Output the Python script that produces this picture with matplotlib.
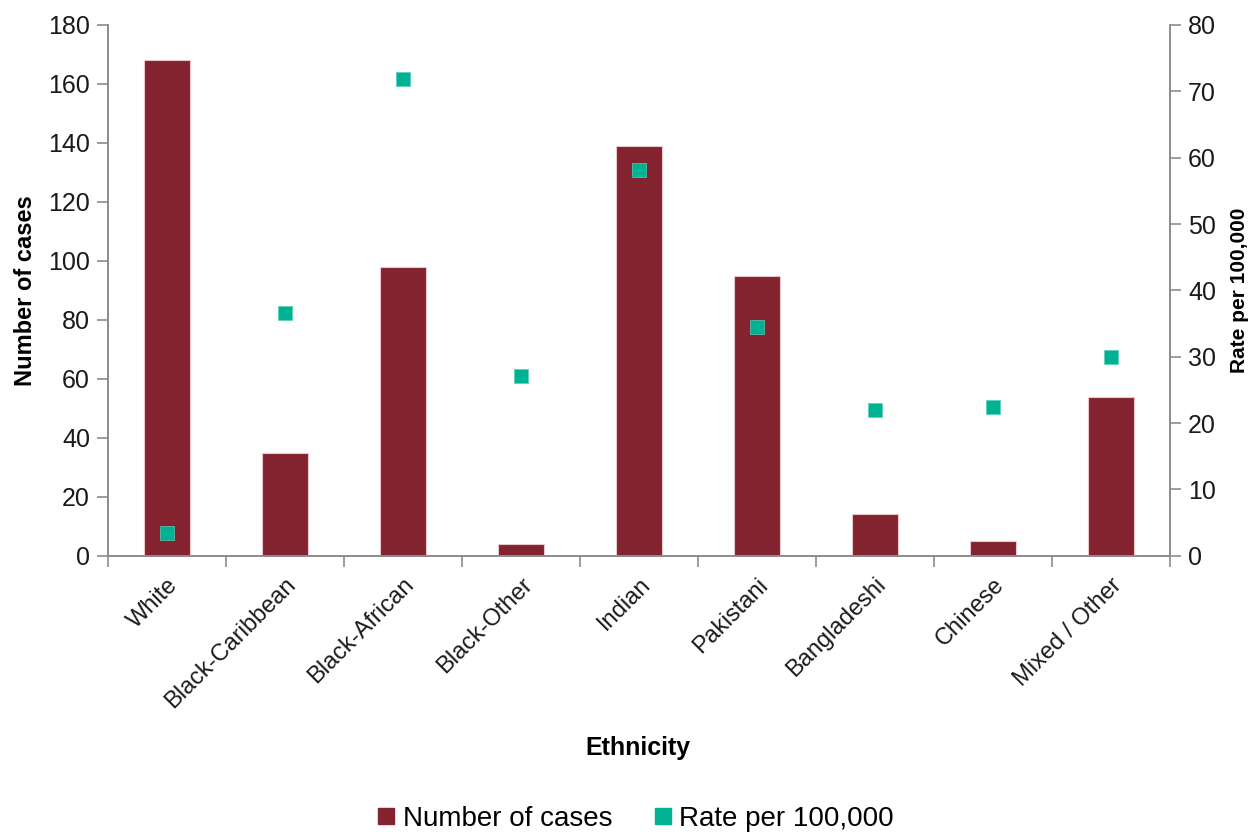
import numpy as np
import matplotlib.pyplot as plt
from matplotlib.lines import Line2D

plt.rcParams['font.family'] = ['Liberation Sans', 'DejaVu Sans']

grupos = ['White', 'Black-Caribbean', 'Black-African', 'Black-Other', 'Indian',
          'Pakistani', 'Bangladeshi', 'Chinese', 'Mixed / Other']
casos = [168, 35, 98, 4, 139, 95, 14, 5, 54]
tasa = [3.5, 36.6, 71.8, 27.1, 58.2, 34.5, 21.9, 22.4, 29.9]

color_barra = '#82232F'
color_tasa = '#00B294'
gris = '#8C8C8C'
texto = '#1A1A1A'

fig = plt.figure(figsize=(12.54, 8.32), dpi=100)
ax = fig.add_axes([0.0861, 0.332, 0.847, 0.638])
ax2 = ax.twinx()

x = np.arange(len(grupos))
ax.bar(x, casos, width=0.39, color=color_barra, edgecolor='#E8C8CC', linewidth=0.8, zorder=2)
ax2.plot(x, tasa, 's', color=color_tasa, markersize=9.5, markeredgecolor='#5CCDB8',
         markeredgewidth=0.5, zorder=3)

ax.set_xlim(-0.5, len(grupos) - 0.5)
ax.set_ylim(0, 180)
ax.set_yticks(range(0, 181, 20))
ax2.set_ylim(0, 80)
ax2.set_yticks(range(0, 81, 10))

# etiquetas en el centro, marcas entre categorias
ax.set_xticks(x)
ax.set_xticklabels(grupos, rotation=45, ha='right', rotation_mode='anchor',
                   fontsize=17, color=texto)
ax.set_xticks(np.arange(-0.5, len(grupos)), minor=True)
ax.tick_params(axis='x', which='major', length=0, pad=13)
ax.tick_params(axis='x', which='minor', length=8, color=gris, width=1.2)
ax.tick_params(axis='y', length=8, color=gris, width=1.2, labelsize=18,
               labelcolor=texto, pad=5)
ax2.tick_params(axis='y', length=8, color=gris, width=1.2, labelsize=18,
                labelcolor=texto, pad=5)

for a in (ax, ax2):
    a.spines['top'].set_visible(False)
    for s in ('left', 'right', 'bottom'):
        a.spines[s].set_color(gris)
        a.spines[s].set_linewidth(1.2)

ax.set_ylabel('Number of cases', fontsize=17, fontweight='bold', labelpad=8)
ax2.set_ylabel('Rate per 100,000', fontsize=15, fontweight='bold', labelpad=10)
fig.text(0.509, 0.101, 'Ethnicity', ha='center', va='center', fontsize=18, fontweight='bold')

handles = [Line2D([], [], marker='s', linestyle='none', color=color_barra, markersize=11),
           Line2D([], [], marker='s', linestyle='none', color=color_tasa, markersize=11)]
fig.legend(handles, ['Number of cases', 'Rate per 100,000'], loc='center',
           bbox_to_anchor=(0.505, 0.016), ncol=2, frameon=False, fontsize=20,
           handletextpad=0.1, columnspacing=1.3, handlelength=1.0)

fig.savefig('out.png', dpi=100)
